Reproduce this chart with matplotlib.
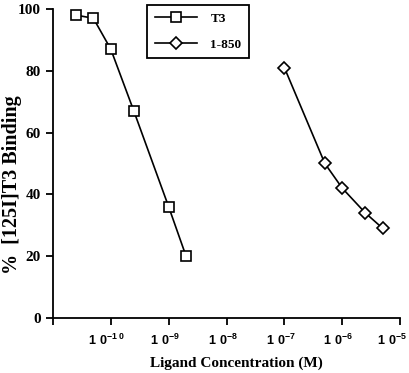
import matplotlib
matplotlib.use("Agg")
import matplotlib.pyplot as plt
import matplotlib.transforms as mtransforms

# T3 competition data
t3_conc = [2.5e-11, 5e-11, 1e-10, 2.5e-10, 1e-9, 2e-9]
t3_binding = [98, 97, 87, 67, 36, 20]

# 1-850 competition data
c850_conc = [1e-7, 5e-7, 1e-6, 2.5e-6, 5e-6]
c850_binding = [81, 50, 42, 34, 29]

xticks = [1e-11, 1e-10, 1e-9, 1e-8, 1e-7, 1e-6, 1e-5]
xtick_labels = ["", r"$\mathregular{1\ 0^{-1\ 0}}$", r"$\mathregular{1\ 0^{-9}}$",
                r"$\mathregular{1\ 0^{-8}}$", r"$\mathregular{1\ 0^{-7}}$",
                r"$\mathregular{1\ 0^{-6}}$", r"$\mathregular{1\ 0^{-5}}$"]
yticks = [0, 20, 40, 60, 80, 100]

serif = "Liberation Serif"

fig = plt.figure(figsize=(4.10, 3.73), dpi=100)
ax = fig.add_axes([0.129, 0.1475, 0.847, 0.8285])

ax.plot(t3_conc, t3_binding, color="black", linewidth=1.2, marker="s",
        markersize=7, markerfacecolor="white", markeredgecolor="black",
        markeredgewidth=1.2, label="T3")
ax.plot(c850_conc, c850_binding, color="black", linewidth=1.2, marker="D",
        markersize=6, markerfacecolor="white", markeredgecolor="black",
        markeredgewidth=1.2, label="1-850")

ax.set_xscale("log")
ax.set_xlim(1e-11, 1e-5)
ax.set_ylim(0, 100)
ax.set_xticks(xticks)
ax.set_xticklabels(xtick_labels)
ax.minorticks_off()
ax.set_yticks(yticks)

for s in ["top", "right"]:
    ax.spines[s].set_visible(False)
for s in ["left", "bottom"]:
    ax.spines[s].set_linewidth(1.3)

ax.tick_params(axis="both", direction="out", length=5, width=1.3)
ax.tick_params(axis="x", pad=6)
shift = mtransforms.ScaledTranslation(-4 / 100, 0, fig.dpi_scale_trans)
for i, lab in enumerate(ax.get_xticklabels()):
    lab.set_fontfamily("Liberation Sans")
    lab.set_fontweight("bold")
    lab.set_fontsize(9)
    dx = -8 if i == len(xticks) - 1 else -4
    lab.set_transform(lab.get_transform() +
                      mtransforms.ScaledTranslation(dx / 100, 0, fig.dpi_scale_trans))
for lab in ax.get_yticklabels():
    lab.set_fontfamily(serif)
    lab.set_fontweight("bold")
    lab.set_fontsize(11)

ax.set_xlabel("Ligand Concentration (M)", fontfamily=serif, fontweight="bold",
              fontsize=11, va="center")
ax.xaxis.set_label_coords(0.527, -0.146)
ax.set_ylabel("%  [125I]T3 Binding", fontfamily=serif, fontweight="bold",
              fontsize=14.5, va="center")
ax.yaxis.set_label_coords(-0.118, 0.43)

leg = ax.legend(loc="upper left", bbox_to_anchor=(0.271, 1.013), borderaxespad=0,
                fancybox=False, edgecolor="black", framealpha=1,
                prop={"family": serif, "weight": "bold", "size": 9.5},
                handlelength=3.2, handletextpad=1.0, labelspacing=1.0,
                borderpad=0.6)
leg.get_frame().set_linewidth(1.3)

fig.savefig("out.png", dpi=100)
